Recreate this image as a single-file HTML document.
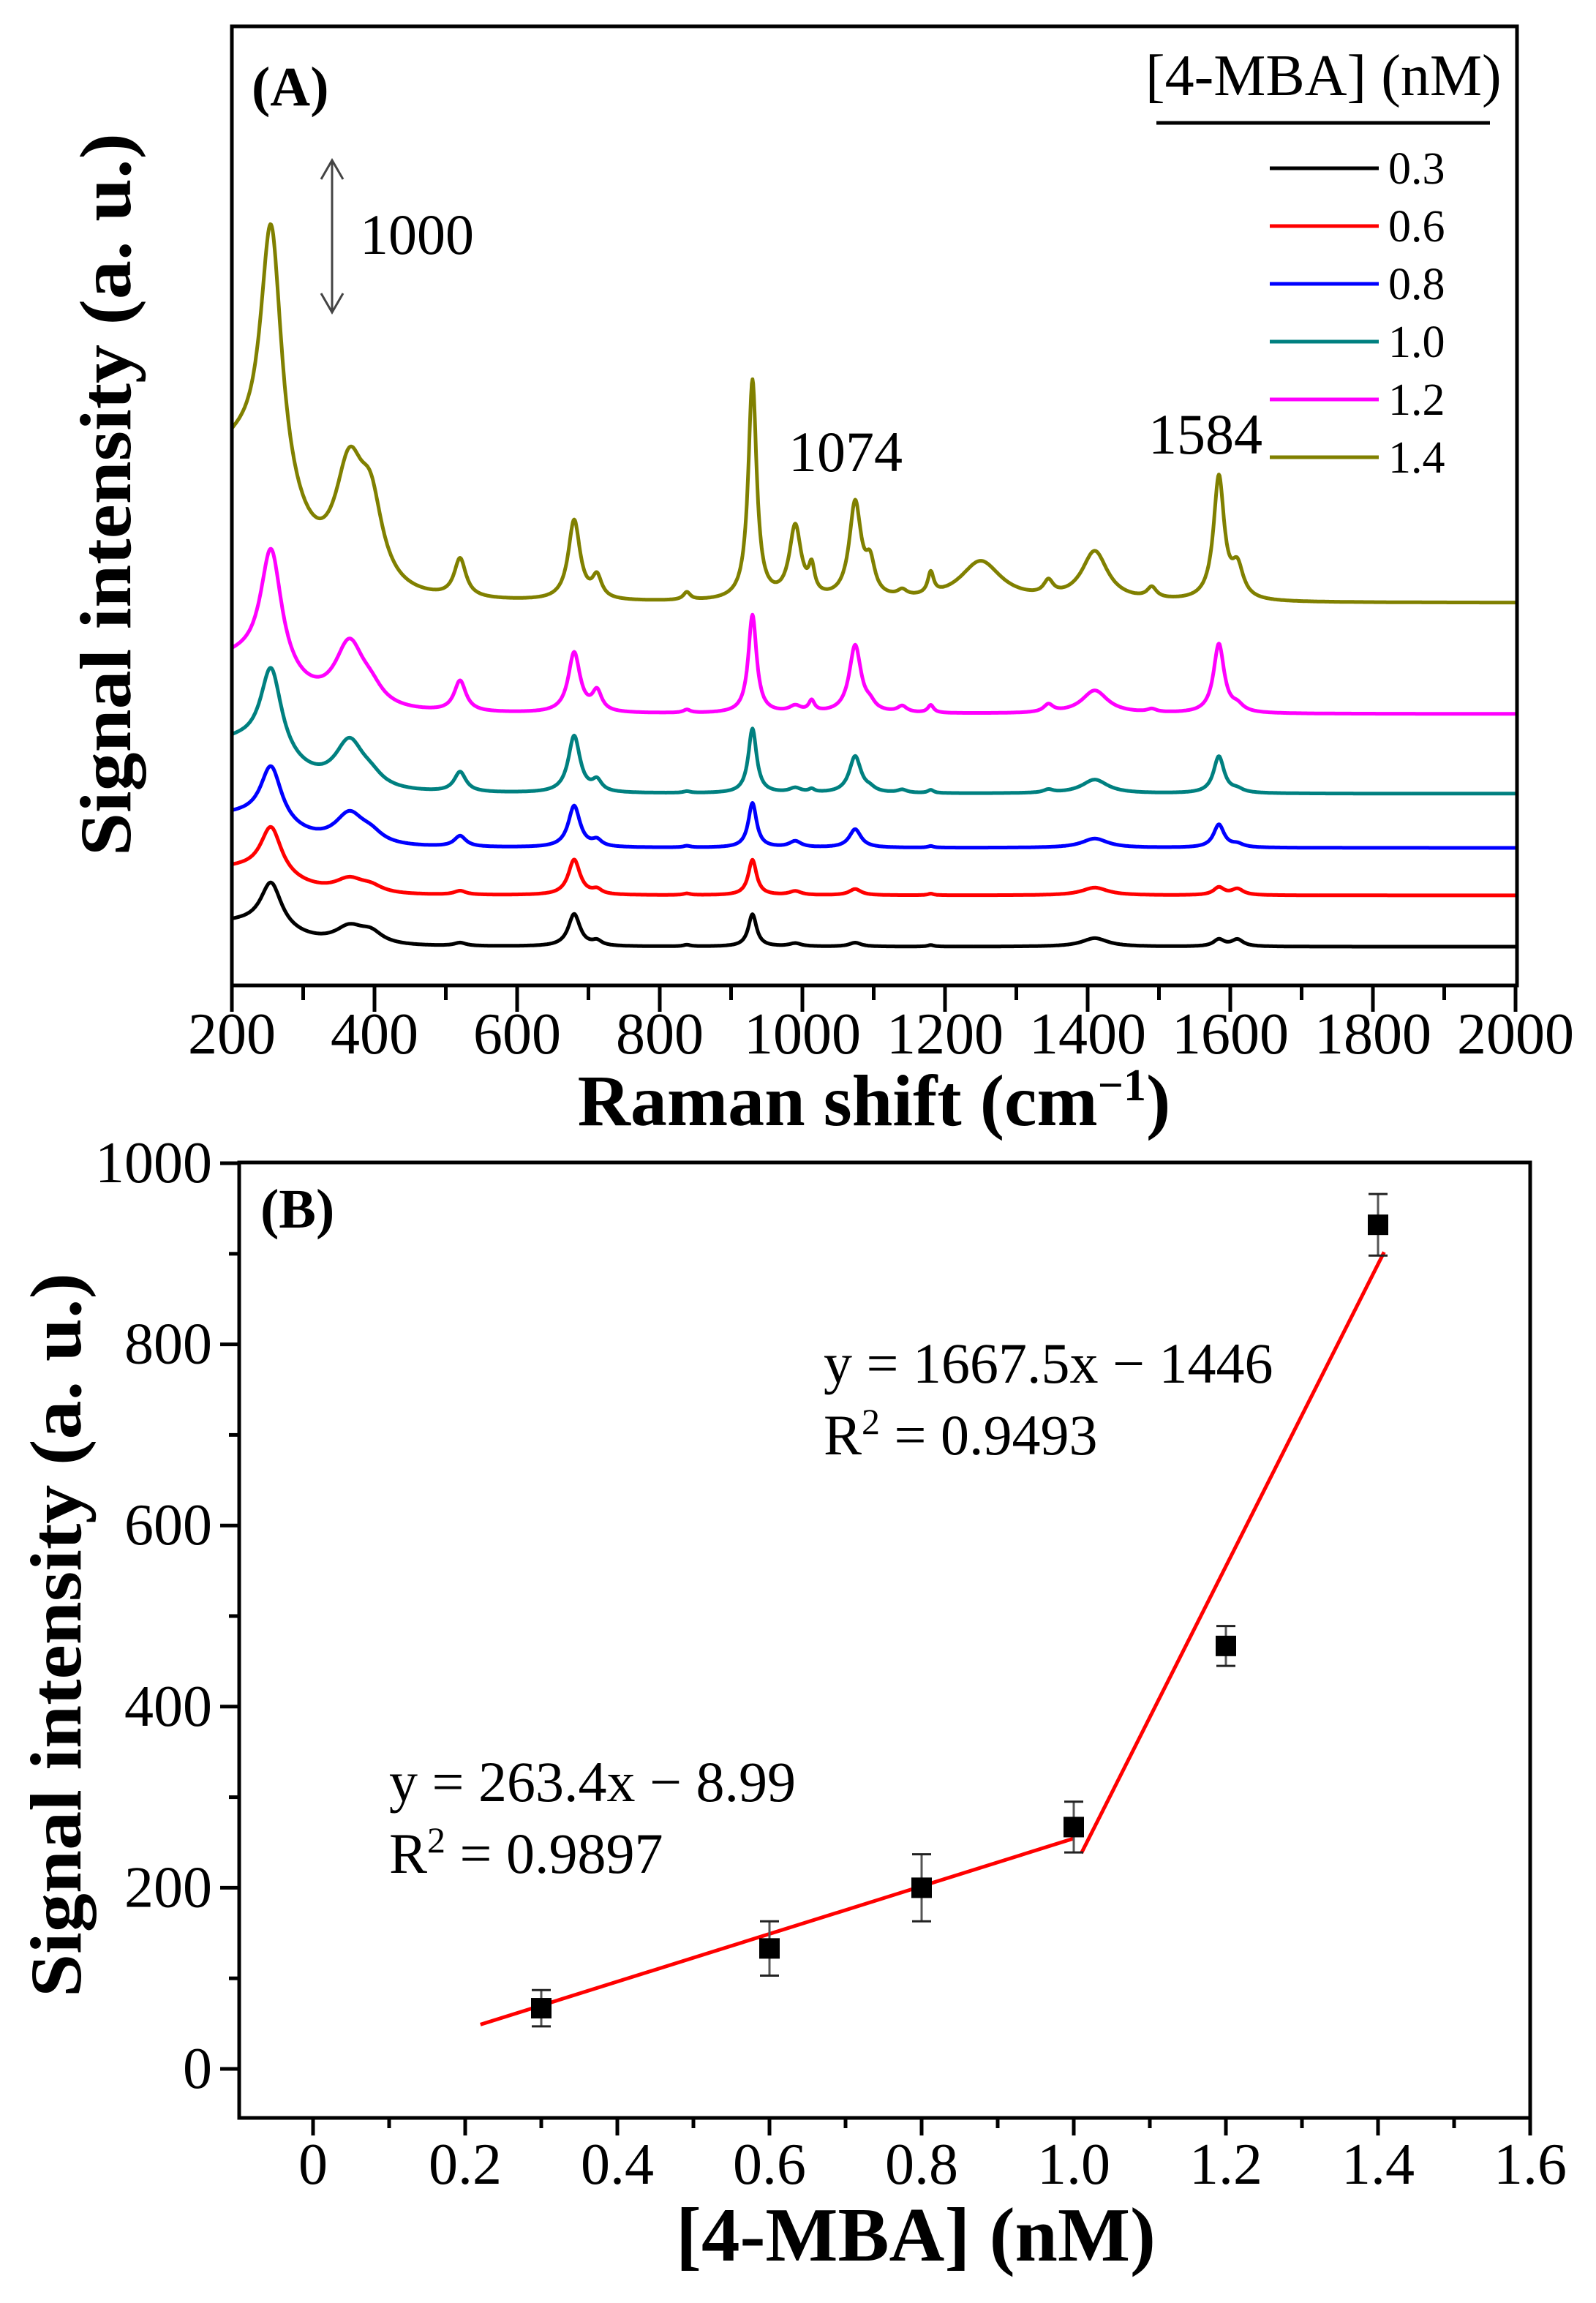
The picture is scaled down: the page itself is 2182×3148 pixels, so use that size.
<!DOCTYPE html>
<html><head><meta charset="utf-8"><style>
html,body{margin:0;padding:0;background:#fff;}
svg{display:block;font-family:"Liberation Serif",serif;}
</style></head><body>
<svg id="fig" width="2182" height="3148" viewBox="0 0 2182 3148" xmlns="http://www.w3.org/2000/svg">
<rect width="2182" height="3148" fill="#fff"/>
<g id="pa"></g>
<g id="pb"></g>
</svg>
<script>
// ---------- Panel A data ----------
const seriesLabels = ["0.3","0.6","0.8","1.0","1.2","1.4"];
const seriesColors = ["#000000","#ff0000","#0000ff","#008080","#ff00ff","#808000"];
const baselines = [252, 586, 895, 1248, 1767, 2490];
const bgAmp = [151, 169, 204, 325, 342, 947];
const peakPos =  [255, 365, 395, 520, 680, 712, 838, 930, 990, 1013, 1074, 1095, 1140, 1180, 1250, 1345, 1410, 1490, 1584, 1610];
const peakHwhm = [18,  25,  20,  10,  10,  8,   6,   7,   10,  5,    10,   8,    8,    5,    35,   8,    22,   8,    9,    10];
const peakH0_3 = [300, 110, 70,  20,  210, 30,  10,  210, 20,  0,    25,   0,    0,    10,   0,    0,    55,   0,    45,   45];
const peakH0_6 = [316, 90,  40,  25,  230, 30,  10,  230, 25,  0,    40,   0,    0,    10,   0,    0,    50,   0,    50,   40];
const peakH0_8 = [371, 200, 60,  70,  270, 40,  10,  290, 40,  0,    120,  0,    0,    10,   0,    0,    60,   0,    150,  20];
const peakH1_0 = [563, 310, 60,  130, 370, 70,  10,  420, 30,  20,   240,  20,   20,   20,   0,    20,   90,   0,    240,  20];
const peakH1_2 = [800, 420, 90,  200, 390, 130, 20,  640, 40,  70,   440,  40,   40,   50,   0,    50,   150,  20,   450,  40];
const peakH1_4 = [1719,760, 480, 250, 520, 140, 50,  1430,470, 170,  620,  200,  40,   140,  260,  90,   320,  70,   800,  200];
const peakHeights = [peakH0_3, peakH0_6, peakH0_8, peakH1_0, peakH1_2, peakH1_4];
const xTicksA = [200,400,600,800,1000,1200,1400,1600,1800,2000];

// ---------- Panel B data ----------
const concs = [0.3, 0.6, 0.8, 1.0, 1.2, 1.4];
const intensities = [67, 133, 200, 267, 467, 932];
const errors = [20, 30, 37, 28, 22, 34];
const fit1 = {slope: 263.4, icpt: -8.99, x0: 0.22, x1: 1.0};
const fit2 = {slope: 1667.5, icpt: -1446, x0: 1.01, x1: 1.408};
const xTicksB = [0, 0.2, 0.4, 0.6, 0.8, 1.0, 1.2, 1.4, 1.6];
const xTickLabelsB = ["0","0.2","0.4","0.6","0.8","1.0","1.2","1.4","1.6"];
const yTicksB = [0, 200, 400, 600, 800, 1000];

const NS = "http://www.w3.org/2000/svg";
function mk(parent, tag, attrs, txt){
  const e = document.createElementNS(NS, tag);
  for (const k in attrs) e.setAttribute(k, attrs[k]);
  if (txt !== undefined) e.textContent = txt;
  parent.appendChild(e);
  return e;
}

// ===== Panel A =====
const pa = document.getElementById('pa');
const AL = 317, AR = 2074, AT = 36, AB = 1347;
const xA = v => AL + (v - 200) * (2072 - 317) / 1800;
const yA = u => AB - u * 0.21;

for (let s = 0; s < seriesLabels.length; s++) {
  let d = "";
  for (let x = 200; x <= 2000; x += 1) {
    let u = baselines[s] + bgAmp[s] * Math.exp(-((x - 200) * (x - 200)) / (2 * 70 * 70));
    for (let k = 0; k < peakPos.length; k++) {
      const t = (x - peakPos[k]) / peakHwhm[k];
      u += peakHeights[s][k] / (1 + t * t);
    }
    d += (x === 200 ? "M" : "L") + xA(x).toFixed(1) + "," + yA(u).toFixed(1);
  }
  const p = mk(pa, 'path', {d: d, fill: 'none', stroke: seriesColors[s], 'stroke-width': 5, 'stroke-linejoin': 'round'});
  
  
}

const boxA = mk(pa, 'rect', {x: AL, y: AT, width: AR - AL, height: AB - AT, fill: 'none', stroke: '#000', 'stroke-width': 5});



for (let v = 200; v <= 2000; v += 100) {
  const major = v % 200 === 0;
  const t = mk(pa, 'line', {x1: xA(v), x2: xA(v), y1: AB, y2: AB + (major ? 36 : 20), stroke: '#000', 'stroke-width': 5});
  
  
}
for (let i = 0; i < xTicksA.length; i++) {
  const t = mk(pa, 'text', {x: xA(xTicksA[i]), y: 1440, 'font-size': 80, 'text-anchor': 'middle'}, String(xTicksA[i]));
  
  
}
let t;
t = mk(pa, 'text', {x: 1195, y: 1538, 'font-size': 100, 'font-weight': 'bold', 'text-anchor': 'middle'});


t.innerHTML = 'Raman shift (cm<tspan baseline-shift="super" font-size="62">−1</tspan>)';
t = mk(pa, 'text', {x: 0, y: 0, 'font-size': 100, 'font-weight': 'bold', 'text-anchor': 'middle', transform: 'translate(178,676) rotate(-90)', textLength: 988, lengthAdjust: 'spacingAndGlyphs'}, 'Signal intensity (a. u.)');


t = mk(pa, 'text', {x: 344, y: 144, 'font-size': 76, 'font-weight': 'bold'}, '(A)');



// scale arrow
const arr = mk(pa, 'g', {stroke: '#444', 'stroke-width': 3, fill: 'none'});


mk(arr, 'line', {x1: 454, x2: 454, y1: 219, y2: 427});
mk(arr, 'polyline', {points: '439,245 454,219 469,245'});
mk(arr, 'polyline', {points: '439,401 454,427 469,401'});
t = mk(pa, 'text', {x: 492, y: 347, 'font-size': 78}, '1000');


t = mk(pa, 'text', {x: 1078, y: 644, 'font-size': 78}, '1074');


t = mk(pa, 'text', {x: 1570, y: 620, 'font-size': 78}, '1584');



// legend
const lg = mk(pa, 'g', {});


t = mk(lg, 'text', {x: 1566, y: 130, 'font-size': 80}, '[4-MBA] (nM)');


mk(lg, 'line', {x1: 1581, x2: 2037, y1: 168, y2: 168, stroke: '#000', 'stroke-width': 5});
for (let s = 0; s < seriesLabels.length; s++) {
  const y = 230 + s * 79;
  const e = mk(lg, 'g', {});
  
  
  mk(e, 'line', {x1: 1736, x2: 1885, y1: y, y2: y, stroke: seriesColors[s], 'stroke-width': 5});
  mk(e, 'text', {x: 1898, y: y + 21, 'font-size': 62}, seriesLabels[s]);
}

// ===== Panel B =====
const pb = document.getElementById('pb');
const BL = 327, BR = 2092, BT = 1589, BB = 2895;
const xB = v => 428 + v * 1040;
const yB = v => 2828 - v * 1.238;

const boxB = mk(pb, 'rect', {x: BL, y: BT, width: BR - BL, height: BB - BT, fill: 'none', stroke: '#000', 'stroke-width': 5});


for (let v = -0.1; v <= 1.601; v += 0.1) {
  const vv = Math.round(v * 10);
  if (xB(v) < BL - 1) continue;
  const major = vv % 2 === 0;
  t = mk(pb, 'line', {x1: xB(v), x2: xB(v), y1: BB, y2: BB + (major ? 24 : 14), stroke: '#000', 'stroke-width': 5});
  
  
}
for (let i = 0; i < xTicksB.length; i++) {
  t = mk(pb, 'text', {x: xB(xTicksB[i]), y: 2985, 'font-size': 80, 'text-anchor': 'middle'}, xTickLabelsB[i]);
  
  
}
for (let v = 0; v <= 1000; v += 100) {
  const major = v % 200 === 0;
  t = mk(pb, 'line', {x1: BL, x2: BL - (major ? 26 : 14), y1: yB(v), y2: yB(v), stroke: '#000', 'stroke-width': 5});
  
  
}
for (let i = 0; i < yTicksB.length; i++) {
  t = mk(pb, 'text', {x: 290, y: yB(yTicksB[i]) + 26, 'font-size': 80, 'text-anchor': 'end'}, String(yTicksB[i]));
  
  
}
t = mk(pb, 'text', {x: 1252, y: 3090, 'font-size': 105, 'font-weight': 'bold', 'text-anchor': 'middle', textLength: 656, lengthAdjust: 'spacingAndGlyphs'}, '[4-MBA] (nM)');


t = mk(pb, 'text', {x: 0, y: 0, 'font-size': 100, 'font-weight': 'bold', 'text-anchor': 'middle', transform: 'translate(110,2235) rotate(-90)', textLength: 990, lengthAdjust: 'spacingAndGlyphs'}, 'Signal intensity (a. u.)');


t = mk(pb, 'text', {x: 356, y: 1678, 'font-size': 76, 'font-weight': 'bold'}, '(B)');



// fit lines
[fit1, fit2].forEach((f, i) => {
  const l = mk(pb, 'line', {x1: xB(f.x0), y1: yB(f.slope * f.x0 + f.icpt), x2: xB(f.x1), y2: yB(f.slope * f.x1 + f.icpt), stroke: '#ff0000', 'stroke-width': 5});
  
  
});
// points
for (let i = 0; i < concs.length; i++) {
  const g = mk(pb, 'g', {});
  
  
  const cx = xB(concs[i]);
  const ytop = yB(intensities[i] + errors[i]), ybot = yB(intensities[i] - errors[i]);
  mk(g, 'line', {x1: cx, x2: cx, y1: ytop, y2: ybot, stroke: '#555', 'stroke-width': 3});
  mk(g, 'line', {x1: cx - 13, x2: cx + 13, y1: ytop, y2: ytop, stroke: '#222', 'stroke-width': 3});
  mk(g, 'line', {x1: cx - 13, x2: cx + 13, y1: ybot, y2: ybot, stroke: '#222', 'stroke-width': 3});
  mk(g, 'rect', {x: cx - 14, y: yB(intensities[i]) - 14, width: 28, height: 28, fill: '#000'});
}
// equations
const eqs = [
  ['y = 1667.5x − 1446', 1126, 1890, 'equation-fit-2'],
  ['R2 = 0.9493', 1126, 1988, 'r2-fit-2'],
  ['y = 263.4x − 8.99', 532, 2462, 'equation-fit-1'],
  ['R2 = 0.9897', 532, 2560, 'r2-fit-1']
];
eqs.forEach(e => {
  const tx = mk(pb, 'text', {x: e[1], y: e[2], 'font-size': 78});
  
  
  if (e[0].startsWith('R2')) {
    tx.innerHTML = 'R<tspan baseline-shift="super" font-size="50">2</tspan>' + e[0].slice(2);
  } else tx.textContent = e[0];
});
</script>
</body></html>
